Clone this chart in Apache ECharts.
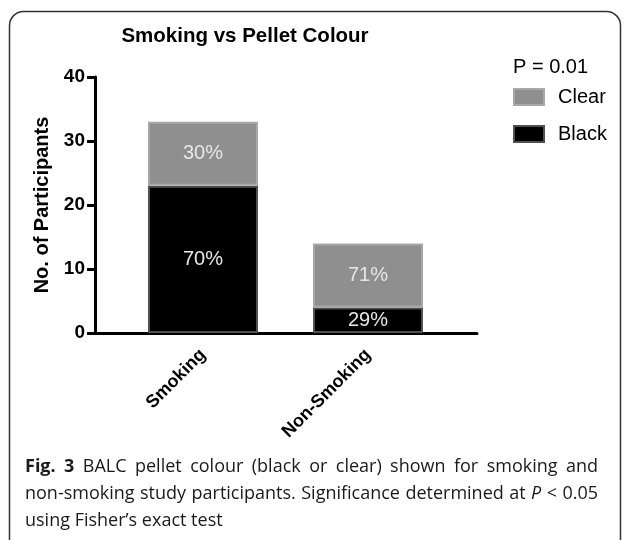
<!DOCTYPE html>
<html>
	<head>
		<meta charset="utf-8">
		<title>Smoking vs Pellet Colour</title>
		<script src="https://cdn.jsdelivr.net/npm/echarts@6/dist/echarts.min.js"></script>
	</head>
	<body style="margin: 0;">
		<div id="box" style="width: 627px;height: 540px;"></div>
		<script>
			var mCharts = echarts.init(document.querySelector('#box'))

			// 分组
			var groups = ['Smoking', 'Non-Smoking']
			// 人数
			var blackData = [23, 4]
			var clearData = [10, 10]
			// 百分比标签
			var blackPct = ['70%', '29%']
			var clearPct = ['30%', '71%']
			var yTicks = [0, 10, 20, 30, 40]

			// 图注, 每行一组 [文字, 样式]
			var captionLines = [
				[['Fig.', 'b'], ['3', 'b'], 'BALC', 'pellet', 'colour', '(black', 'or', 'clear)', 'shown', 'for', 'smoking', 'and'],
				['non-smoking', 'study', 'participants.', 'Significance', 'determined', 'at', ['P', 'i'], '<', '0.05'],
				['using', 'Fisher\u2019s', 'exact', 'test']
			]

			var axisFont = 'Liberation Sans, Arial, sans-serif'
			var capFont = '"Open Sans", sans-serif'
			var capSize = 18

			// 两端对齐: 用 canvas 量字宽, 算每个词的 x
			var ctx = document.createElement('canvas').getContext('2d')
			function fontOf(kind) {
				if (kind === 'b') return 'bold ' + capSize + 'px ' + capFont
				if (kind === 'i') return 'italic ' + capSize + 'px ' + capFont
				return capSize + 'px ' + capFont
			}
			function captionGraphics(x0, x1, y0, lineH) {
				var out = []
				captionLines.forEach(function(line, li) {
					var words = line.map(function(w) {
						var t = typeof w === 'string' ? w : w[0]
						var k = typeof w === 'string' ? '' : w[1]
						ctx.font = fontOf(k)
						return { t: t, f: fontOf(k), w: ctx.measureText(t).width }
					})
					var total = words.reduce(function(s, w) { return s + w.w }, 0)
					ctx.font = fontOf('')
					var space = ctx.measureText(' ').width
					var last = li === captionLines.length - 1
					var gap = last ? space : (x1 - x0 - total) / (words.length - 1)
					var x = x0
					words.forEach(function(w) {
						out.push({
							type: 'text',
							x: x,
							y: y0 + li * lineH,
							style: { text: w.t, font: w.f, fill: '#1a1a1a', textVerticalAlign: 'middle' }
						})
						x += w.w + gap
					})
				})
				return out
			}

			var option = {
				title: {
					text: 'Smoking vs Pellet Colour',
					left: 240,
					top: 21,
					textAlign: 'center',
					textStyle: { fontFamily: axisFont, fontSize: 20.5, fontWeight: 'bold', color: '#000' }
				},
				legend: {
					orient: 'vertical',
					left: 513,
					top: 87,
					padding: 0,
					itemWidth: 30,
					itemHeight: 16,
					itemGap: 17,
					icon: 'rect',
					data: ['Clear', 'Black'],
					textStyle: { fontFamily: axisFont, fontSize: 20, color: '#000', padding: [0, 0, 0, 9] }
				},
				// 两个 grid: 一个画 y 轴和整条 x 轴线, 一个放柱子
				grid: [
					{ left: 95, right: 150, top: 77, bottom: 207 },
					{ left: 120.5, width: 330, top: 77, bottom: 207 }
				],
				xAxis: [
					{
						gridIndex: 0,
						type: 'category',
						data: [''],
						axisLine: { lineStyle: { color: '#000', width: 3 } },
						axisTick: { show: false },
						axisLabel: { show: false }
					},
					{
						gridIndex: 1,
						type: 'category',
						data: groups,
						axisLine: { show: false },
						axisTick: { alignWithLabel: true, length: 9, lineStyle: { color: '#000', width: 3 } },
						axisLabel: {
							rotate: 45,
							margin: 19,
							interval: 0,
							fontFamily: axisFont,
							fontSize: 18,
							fontWeight: 'bold',
							color: '#000'
						}
					}
				],
				yAxis: [
					{
						gridIndex: 0,
						type: 'value',
						min: yTicks[0],
						max: yTicks[yTicks.length - 1],
						interval: 10,
						name: 'No. of Participants',
						nameLocation: 'middle',
						nameGap: 38,
						nameTextStyle: { fontFamily: axisFont, fontSize: 20, fontWeight: 'bold', color: '#000' },
						splitLine: { show: false },
						axisLine: { show: true, lineStyle: { color: '#000', width: 3 } },
						axisTick: { show: true, length: 8, lineStyle: { color: '#000', width: 3 } },
						axisLabel: { margin: 10, fontFamily: axisFont, fontSize: 19, fontWeight: 'bold', color: '#000' }
					},
					{
						gridIndex: 1,
						type: 'value',
						min: yTicks[0],
						max: yTicks[yTicks.length - 1],
						interval: 10,
						show: false,
						splitLine: { show: false }
					}
				],
				series: [
					{
						name: 'Black',
						type: 'bar',
						stack: 'total',
						xAxisIndex: 1,
						yAxisIndex: 1,
						barWidth: 110,
						data: blackData,
						itemStyle: { color: '#000', borderColor: '#505050', borderWidth: 2 },
						label: {
							show: true,
							position: 'inside',
							formatter: function(p) { return blackPct[p.dataIndex] },
							fontFamily: axisFont,
							fontSize: 20,
							color: '#e6e6e6'
						}
					},
					{
						name: 'Clear',
						type: 'bar',
						stack: 'total',
						xAxisIndex: 1,
						yAxisIndex: 1,
						barWidth: 110,
						data: clearData,
						itemStyle: { color: '#8f8f8f', borderColor: '#a8a8a8', borderWidth: 2 },
						label: {
							show: true,
							position: 'inside',
							formatter: function(p) { return clearPct[p.dataIndex] },
							fontFamily: axisFont,
							fontSize: 20,
							color: '#e6e6e6'
						}
					}
				],
				graphic: [
					{
						type: 'rect',
						shape: { x: 9.5, y: 11.5, width: 611, height: 560, r: 14 },
						style: { fill: 'none', stroke: '#333', lineWidth: 1.5 },
						z: -1
					},
					{
						type: 'text',
						left: 513,
						top: 57,
						style: { text: 'P = 0.01', font: '20px ' + axisFont, fill: '#000' }
					}
				].concat(captionGraphics(25, 598, 467, 27))
			}
			mCharts.setOption(option)
		</script>
	</body>
</html>
